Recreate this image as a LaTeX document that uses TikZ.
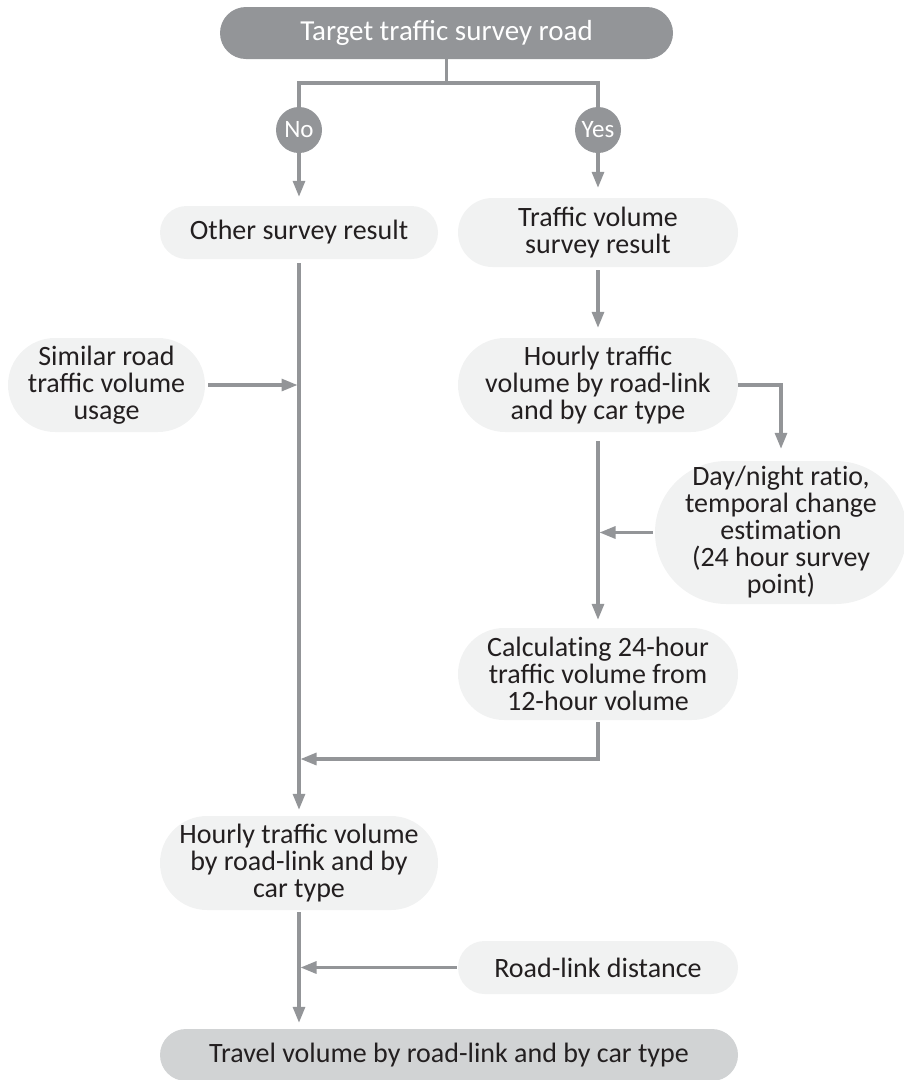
\documentclass[tikz,border=0pt]{standalone}
\usepackage{fontspec}
\setmainfont{Carlito}
\usetikzlibrary{arrows.meta,calc}
\definecolor{dk}{HTML}{939598}
\definecolor{lt}{HTML}{F1F2F2}
\definecolor{md}{HTML}{D1D3D4}
\definecolor{tx}{HTML}{231F20}
\newcommand{\nti}{t\kern0pt i}
\begin{document}
\begin{tikzpicture}[x=1pt,y=-1pt,
  box/.style n args={2}{rectangle, fill=lt, draw=none, minimum width=#1, minimum height=#2,
     rounded corners=#2/2, inner sep=0pt, align=center, text=tx,
     font=\fontsize{28}{27}\selectfont},
  dbox/.style n args={2}{box={#1}{#2}, fill=dk, text=white, font=\fontsize{29}{28}\selectfont},
  mbox/.style n args={2}{box={#1}{#2}, fill=md},
  yn/.style={circle, fill=dk, minimum size=46pt, inner sep=0pt, text=white,
     font=\fontsize{25}{25}\selectfont},
  line/.style={draw=dk, line width=3.1pt},
  arr/.style={line, -{Triangle[length=16pt,width=12pt]}},
  ]
\useasboundingbox (0,0) rectangle (904,1080);

\node[dbox={453}{52}] (top) at (446.5,33) {Target traffic survey road};
\node[yn] (no) at (299,130) {No};
\node[yn] (yes) at (598,130) {Yes};
\node[box={278}{53}] (other) at (299,232.5) {Other survey result};
\node[box={280}{69}] (tvs) at (598,232.5) {Traffic volume\\survey result};
\node[box={197}{94}] (sim) at (106.5,385) {Similar road\\traffic volume\\usage};
\node[box={280}{94}] (hr) at (598,385) {Hourly traffic\\volume by road-link\\and by car type};
\node[box={252}{143}] (dn) at (781,532.5) {Day/night ra\nti o,\\temporal change\\es\nti ma\nti on\\(24 hour survey\\point)};
\node[box={280}{92}] (calc) at (598,674) {Calcula\nti ng 24-hour\\traffic volume from\\12-hour volume};
\node[box={278}{94}] (hl) at (299,863) {Hourly traffic volume\\by road-link and by\\car type};
\node[box={280}{53}] (rl) at (598,967.5) {Road-link distance};
\node[mbox={578}{52}] (tr) at (449,1055) {Travel volume by road-link and by car type};

\coordinate (br) at (446.5,83);
\coordinate (j1) at (299,759);

\draw[line] (top.south) -- (br);
\draw[line] (no.north) |- (br) -| (yes.north);
\draw[arr] (no.south) -- ([yshift=9pt]other.north);
\draw[arr] (yes.south) -- ([yshift=10pt]tvs.north);
\draw[arr] ([yshift=-4pt]other.south) -- ([yshift=6pt]hl.north);
\draw[arr, shorten >=1.5pt] ([xshift=3pt]sim.east) -- (sim.east -| other.south);
\draw[arr] ([yshift=-3pt]tvs.south) -- ([yshift=10pt]hr.north);
\draw[arr] (hr.east) -| ([yshift=12pt]dn.north);
\draw[arr] ([yshift=-9pt]hr.south) -- ([yshift=8pt]calc.south |- calc.north);
\draw[arr, shorten >=1.5pt] ([xshift=-2pt]dn.west) -- (dn.west -| hr.south);
\draw[arr, shorten >=1.5pt] ([yshift=-2pt]calc.south) |- (j1);
\draw[arr] ([yshift=-2pt]hl.south) -- ([yshift=6pt]hl.south |- tr.north);
\draw[arr, shorten >=1.5pt] ([xshift=-1pt]rl.west) -- (rl.west -| hl.south);
\end{tikzpicture}
\end{document}
